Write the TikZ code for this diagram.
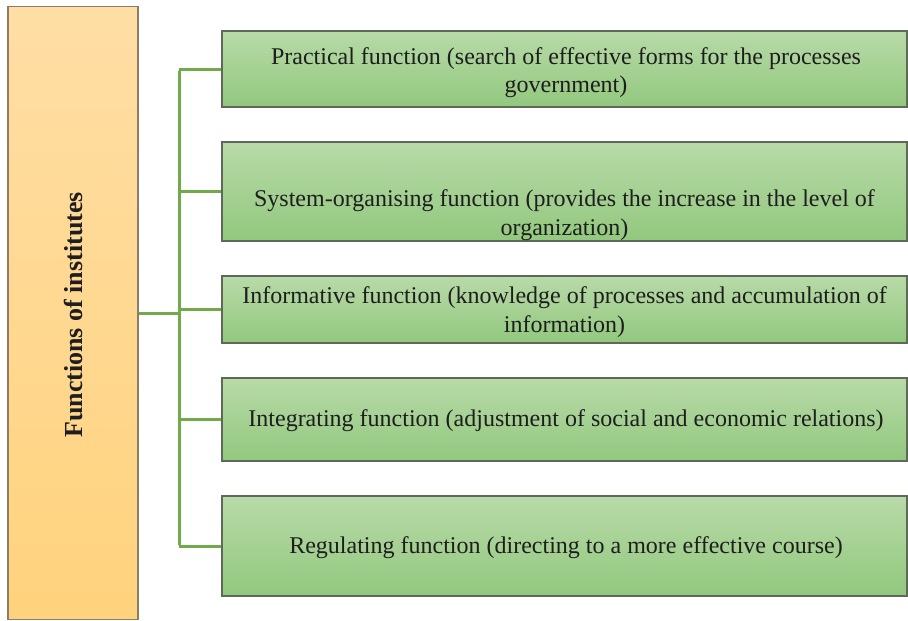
\documentclass[tikz,border=0pt]{standalone}
\usepackage{fontspec}
\setmainfont{Liberation Serif}
\begin{document}
\begin{tikzpicture}[x=1pt,y=-1pt,
  fnbox/.style={draw=boxline, line width=1.2pt, top color=gtop, bottom color=gbot, minimum width=685pt, inner sep=0pt},
  mainbox/.style={draw=obline, line width=1.2pt, top color=otop, bottom color=obot, minimum width=130pt, minimum height=613pt, inner sep=0pt},
  txt/.style={font=\fontsize{24}{28.5}\selectfont, text=txtc, align=center, inner sep=0pt},
  conn/.style={draw=lgreen, line width=3pt}
]
\definecolor{gtop}{RGB}{184,218,168}
\definecolor{gbot}{RGB}{146,200,126}
\definecolor{otop}{RGB}{255,222,165}
\definecolor{obot}{RGB}{255,210,125}
\definecolor{boxline}{RGB}{95,105,90}
\definecolor{obline}{RGB}{140,125,100}
\definecolor{lgreen}{RGB}{112,170,75}
\definecolor{txtc}{RGB}{30,30,30}
\useasboundingbox (0,0) rectangle (908,621);
\fill[white] (0,0) rectangle (908,621);

\node[mainbox] (main) at (73,313) {};
\node[rotate=90, font=\fontsize{26}{30}\selectfont\bfseries, text=txtc] (maintxt) at (74,315) {Functions of institutes};

\node[fnbox, minimum height=76pt] (b1) at (564.5,69) {};
\node[fnbox, minimum height=99pt] (b2) at (564.5,191.5) {};
\node[fnbox, minimum height=67pt] (b3) at (564.5,309.5) {};
\node[fnbox, minimum height=83pt] (b4) at (564.5,419.5) {};
\node[fnbox, minimum height=100pt] (b5) at (564.5,546) {};

\node[txt] (t1) at (566,72.5) {Practical function (search of effective forms for the processes\\government)};
\node[txt] (t2) at (564.5,215) {System-organising function (provides the increase in the level of\\organization)};
\node[txt] (t3) at (564.5,312) {Informative function (knowledge of processes and accumulation of\\information)};
\node[txt] (t4) at (566,421) {Integrating function (adjustment of social and economic relations)};
\node[txt] (t5) at (566,548) {Regulating function (directing to a more effective course)};

\coordinate (hub) at (179,313);
\coordinate (top) at (179,69);
\coordinate (bot) at (179,546);
\draw[conn] (main.east |- hub) -- (hub);
\draw[conn] ([yshift=-1.5pt]top) -- ([yshift=1.5pt]bot);
\foreach \b in {b1,b2,b3,b4,b5}{
  \draw[conn] (top |- \b.west) -- (\b.west);
}
\end{tikzpicture}
\end{document}
